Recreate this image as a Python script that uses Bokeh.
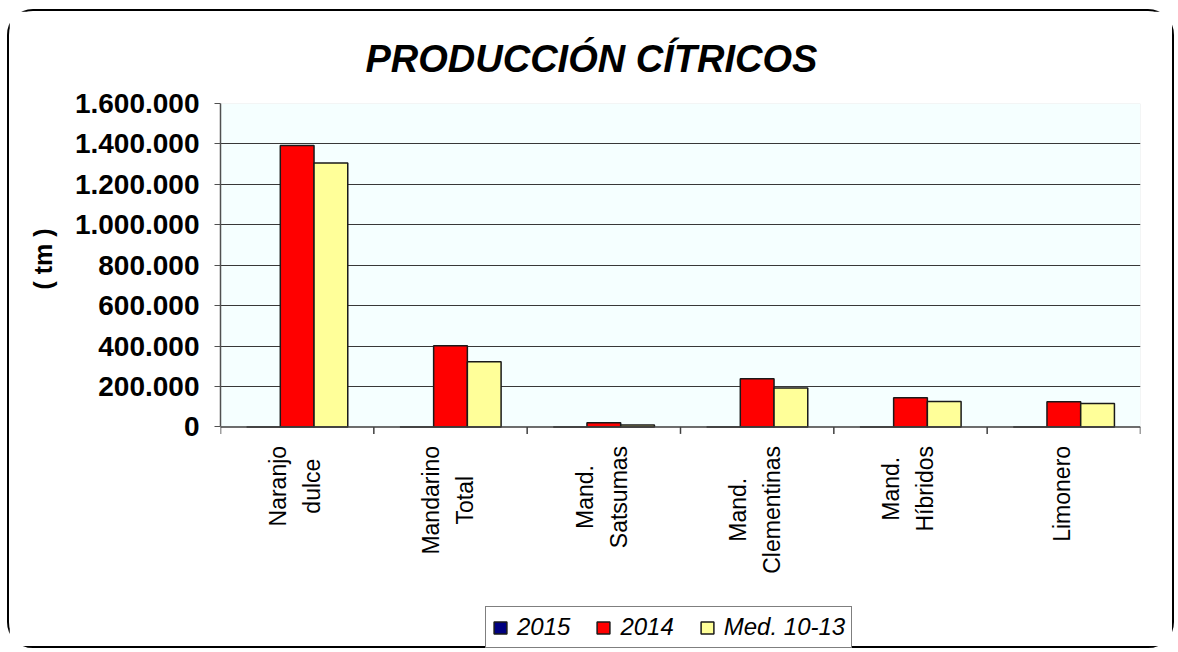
import math
from bokeh.plotting import figure
from bokeh.models import (ColumnDataSource, Range1d, FixedTicker, LabelSet, Title,
                          Legend, LegendItem, BoxAnnotation, Span)
from bokeh.core.properties import value
from bokeh.transform import dodge
from bokeh.embed import file_html
from bokeh.resources import INLINE

# ---------------- data ----------------
categories = ["Naranjo dulce", "Mandarino Total", "Mand. Satsumas",
              "Mand. Clementinas", "Mand. Híbridos", "Limonero"]
category_labels = ["Naranjo\ndulce", "Mandarino\nTotal", "Mand.\nSatsumas",
                   "Mand.\nClementinas", "Mand.\nHíbridos", "Limonero"]
series_names = ["2015", "2014", "Med. 10-13"]
values_2015 = [0, 0, 0, 0, 0, 0]
values_2014 = [1392000, 402000, 20000, 238000, 144000, 124000]
values_med = [1306000, 322000, 9000, 192000, 126000, 116000]
y_ticks = [0, 200000, 400000, 600000, 800000, 1000000, 1200000, 1400000, 1600000]
y_tick_labels = ["0", "200.000", "400.000", "600.000", "800.000", "1.000.000",
                 "1.200.000", "1.400.000", "1.600.000"]
title_text = "PRODUCCIÓN CÍTRICOS"
y_label = "( tm )"

FONT = "Liberation Sans"
n = len(categories)
xpos = [i + 0.5 for i in range(n)]   # category centres on a 0..n scale

# ---------------- layout (pixels) ----------------
PLOT_PX = 324        # height of the value area (0 .. max)
BELOW_PX = 224       # room under the zero line for labels and legend
y_max = y_ticks[-1]
y_min = -y_max * BELOW_PX / PLOT_PX
px = y_max / PLOT_PX  # data units per pixel

p = figure(x_range=Range1d(0, n), y_range=Range1d(y_min, y_max),
           width=1167, height=639, output_backend="svg", toolbar_location=None,
           x_axis_location=None,
           min_border_left=211, min_border_right=36, min_border_top=91, min_border_bottom=0,
           background_fill_color="white", border_fill_color="white")
p.styles = {"border": "2px solid black", "border-radius": "26px",
            "margin-left": "7px", "margin-top": "9px"}
p.outline_line_color = None
p.xgrid.visible = False

# plot area background
p.add_layout(BoxAnnotation(left=0, right=n, bottom=0, top=y_max, fill_color="#F5FFFF",
                           fill_alpha=1, line_color="#BDBDBD", line_width=1, level="image"))

# title
p.title.text = title_text
p.title.align = "left"
p.title.offset = 145
p.title.standoff = 48
p.title.text_font = FONT
p.title.text_font_size = "38px"
p.title.text_font_style = "bold italic"
p.title.text_color = "black"

# bars
src = ColumnDataSource(dict(x=xpos, cat=categories, v2015=values_2015,
                            v2014=values_2014, vmed=values_med))
w = 0.22
r1 = p.vbar(x=dodge("x", -w), top="v2015", width=w, source=src,
            fill_color="#000080", line_color="#1a1a1a", line_width=1.5)
r2 = p.vbar(x=dodge("x", 0), top="v2014", width=w, source=src,
            fill_color="#FF0000", line_color="#1a1a1a", line_width=1.5)
r3 = p.vbar(x=dodge("x", w), top="vmed", width=w, source=src,
            fill_color="#FFFF99", line_color="#1a1a1a", line_width=1.5)

# y axis
yax = p.yaxis[0]
yax.bounds = (y_ticks[0], y_ticks[-1])
yax.ticker = FixedTicker(ticks=y_ticks)
yax.major_label_overrides = dict(zip(y_ticks, y_tick_labels))
yax.major_label_text_font = FONT
yax.major_label_text_font_size = "28px"
yax.major_label_text_font_style = "bold"
yax.major_label_text_color = "black"
yax.major_label_standoff = 15
yax.major_tick_out = 6
yax.major_tick_in = 0
yax.minor_tick_line_color = None
yax.axis_line_color = "#505050"
yax.axis_line_width = 1.5
yax.major_tick_line_color = "#505050"

p.add_layout(Title(text=y_label, align="right", offset=125, standoff=30,
                   text_font=FONT, text_font_size="25px", text_font_style="bold",
                   text_color="black"), "left")

p.ygrid.ticker = FixedTicker(ticks=y_ticks[1:-1])
p.ygrid.grid_line_color = "#383838"
p.ygrid.grid_line_width = 1

# x axis line and ticks at category boundaries
bounds_x = list(range(n + 1))
p.segment(x0=bounds_x, y0=[0] * (n + 1), x1=bounds_x, y1=[-7 * px] * (n + 1),
          line_color="#404040", line_width=1.5)
p.add_layout(Span(location=0, dimension="width", line_color="#404040", line_width=1.5))

# category labels: rotated, one entry per text line, lines centred on each other
char_w = {"N": .722, "a": .556, "r": .333, "j": .222, "o": .556, "d": .556, "u": .556,
          "l": .222, "c": .5, "e": .556, "M": .833, "n": .556, "i": .222, "T": .611,
          "t": .278, ".": .278, "S": .667, "s": .5, "m": .833, "C": .722, "H": .722,
          "í": .278, "b": .556, "L": .556, " ": .278}
def em_len(s):
    return sum(char_w.get(c, .556) for c in s)

fs = 23
label_gap = 19
line_sp = 34
lx, ly, ltext, lxoff, lyoff = [], [], [], [], []
for cx, lab in zip(xpos, category_labels):
    lines = lab.split("\n")
    k = len(lines)
    yo = -(label_gap + fs * max(em_len(l) for l in lines) / 2)
    for j, line in enumerate(lines):
        lx.append(cx)
        ly.append(0)
        ltext.append(line)
        lxoff.append((j - (k - 1) / 2) * line_sp - 2)
        lyoff.append(yo)
lsrc = ColumnDataSource(dict(x=lx, y=ly, text=ltext, xoff=lxoff, yoff=lyoff))
labels = LabelSet(x="x", y="y", text="text", x_offset="xoff", y_offset="yoff", source=lsrc,
                  angle=math.pi / 2, text_align="center",
                  text_baseline="middle", text_font=value(FONT), text_font_size=f"{fs}px",
                  text_color="black")
p.add_layout(labels)

# legend
legend = Legend(items=[LegendItem(label=series_names[0], renderers=[r1]),
                       LegendItem(label=series_names[1], renderers=[r2]),
                       LegendItem(label=series_names[2], renderers=[r3])],
                location=(265, 2), orientation="horizontal")
legend.border_line_color = "black"
legend.border_line_width = 1
legend.background_fill_color = "white"
legend.background_fill_alpha = 1
legend.label_text_font = FONT
legend.label_text_font_size = "24px"
legend.label_text_font_style = "italic"
legend.label_text_color = "black"
legend.glyph_width = 16
legend.glyph_height = 15
legend.label_standoff = 9
legend.spacing = 25
legend.padding = 6
legend.margin = 0
p.add_layout(legend)

open("out.html", "w").write(file_html(p, INLINE))
